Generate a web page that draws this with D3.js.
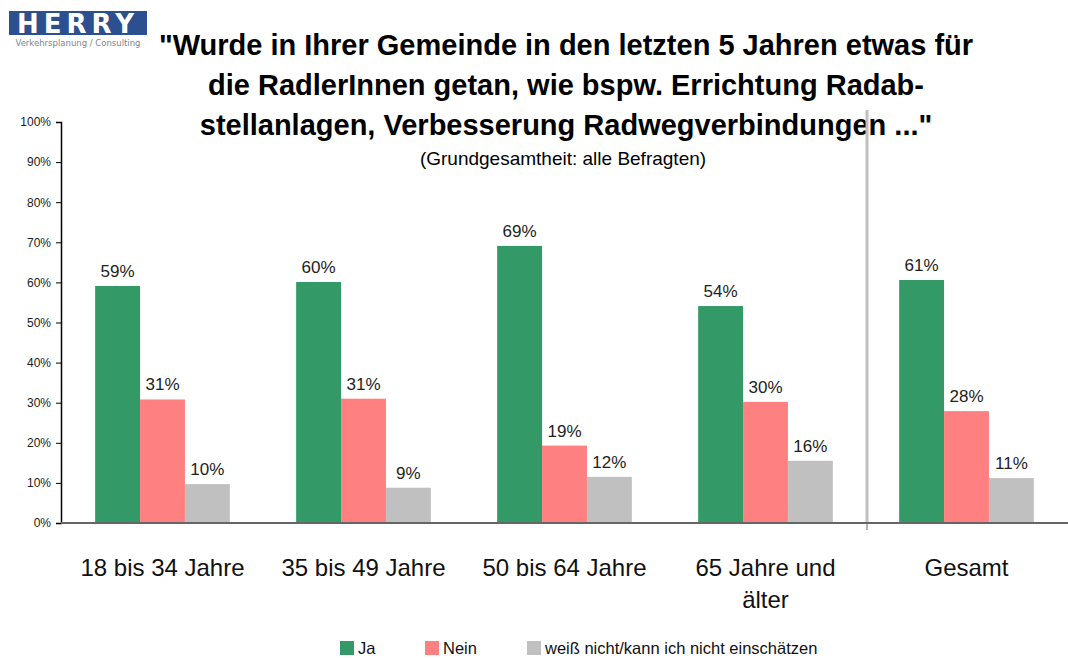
<!DOCTYPE html>
<html>
<head>
<meta charset="utf-8">
<script src="https://cdn.jsdelivr.net/npm/d3@7"></script>
<style>
  body { margin: 0; background: #fff; }
  svg { display: block; font-family: "Liberation Sans Narrow", "Arial Narrow", "Liberation Sans", sans-serif; }
</style>
</head>
<body>
<svg id="chart" width="1068" height="658"></svg>
<script>
// data
const categories = ["18 bis 34 Jahre", "35 bis 49 Jahre", "50 bis 64 Jahre", "65 Jahre und älter", "Gesamt"];
const seriesNames = ["Ja", "Nein", "weiß nicht/kann ich nicht einschätzen"];
const ja = [59.1, 60.1, 69.1, 54.1, 60.6];
const nein = [30.8, 31.0, 19.3, 30.2, 27.9];
const weissNicht = [9.7, 8.8, 11.5, 15.5, 11.2];
const yTicks = [0, 10, 20, 30, 40, 50, 60, 70, 80, 90, 100];
const titleLines = [
  "\"Wurde in Ihrer Gemeinde in den letzten 5 Jahren etwas für",
  "die RadlerInnen getan, wie bspw. Errichtung Radab-",
  "stellanlagen, Verbesserung Radwegverbindungen ...\""
];
const subtitle = "(Grundgesamtheit: alle Befragten)";

const colors = ["#339966", "#ff8080", "#c0c0c0"];
const seriesValues = [ja, nein, weissNicht];

const svg = d3.select("#chart");
const plotLeft = 61, plotRight = 1066, plotTop = 122, plotBottom = 523;

const x0 = d3.scaleBand()
  .domain(categories)
  .range([plotLeft + 1, plotRight + 1])
  .paddingInner(0.33)
  .paddingOuter(0.165);

const x1 = d3.scaleBand()
  .domain(seriesNames)
  .range([0, x0.bandwidth()]);

const y = d3.scaleLinear()
  .domain([0, 100])
  .range([plotBottom, plotTop]);

// logo
const logo = svg.append("g");
logo.append("rect")
  .attr("x", 9).attr("y", 11).attr("width", 138).attr("height", 24)
  .attr("fill", "#2b4f8f");
logo.append("text")
  .attr("x", 78).attr("y", 33)
  .attr("text-anchor", "middle")
  .attr("fill", "#fff")
  .attr("font-family", "DejaVu Sans, sans-serif")
  .attr("font-weight", "900")
  .attr("font-size", 26)
  .attr("letter-spacing", 5)
  .text("HERRY");
logo.append("text")
  .attr("x", 78).attr("y", 46)
  .attr("text-anchor", "middle")
  .attr("fill", "#7a8590")
  .attr("font-family", "DejaVu Sans, sans-serif")
  .attr("font-size", 8.5)
  .text("Verkehrsplanung / Consulting");

// title
svg.append("g").selectAll("text")
  .data(titleLines)
  .join("text")
  .attr("x", 566)
  .attr("y", (d, i) => 55 + i * 40)
  .attr("text-anchor", "middle")
  .attr("font-size", 29)
  .attr("font-weight", "bold")
  .attr("fill", "#000")
  .text(d => d);

svg.append("text")
  .attr("x", 563).attr("y", 165)
  .attr("text-anchor", "middle")
  .attr("font-size", 19)
  .attr("fill", "#000")
  .text(subtitle);

// y axis
const yAxis = svg.append("g")
  .attr("transform", "translate(" + plotLeft + ",0)")
  .call(d3.axisLeft(y).tickValues(yTicks).tickFormat(d => d + "%").tickSize(5).tickPadding(5));
yAxis.select(".domain").attr("stroke", "#000").attr("stroke-width", 1.5);
yAxis.selectAll(".tick line").attr("stroke", "#000");
yAxis.selectAll(".tick text").attr("font-size", 12).attr("fill", "#222");

// divider before Gesamt
const divX = x0("Gesamt") - x0.step() * x0.paddingInner() / 2 + 1;
svg.append("line")
  .attr("x1", divX).attr("x2", divX)
  .attr("y1", 110).attr("y2", plotBottom)
  .attr("stroke", "#c0c0c0").attr("stroke-width", 3);

// bars
const groups = svg.append("g").selectAll("g")
  .data(categories)
  .join("g")
  .attr("transform", d => "translate(" + x0(d) + ",0)");

const cells = groups.selectAll("g")
  .data((c, ci) => seriesNames.map((s, si) => ({s: s, si: si, v: seriesValues[si][ci]})))
  .join("g");

cells.append("rect")
  .attr("x", d => x1(d.s))
  .attr("width", x1.bandwidth())
  .attr("y", d => y(d.v))
  .attr("height", d => y(0) - y(d.v))
  .attr("fill", d => colors[d.si]);

cells.append("text")
  .attr("x", d => x1(d.s) + x1.bandwidth() / 2)
  .attr("y", d => y(d.v) - 9)
  .attr("text-anchor", "middle")
  .attr("font-size", 17)
  .attr("fill", "#222")
  .text(d => Math.round(d.v) + "%");

// x axis line
svg.append("line")
  .attr("x1", plotLeft).attr("x2", 1068)
  .attr("y1", plotBottom).attr("y2", plotBottom)
  .attr("stroke", "#666").attr("stroke-width", 2);
svg.append("line")
  .attr("x1", divX).attr("x2", divX)
  .attr("y1", plotBottom).attr("y2", plotBottom + 7)
  .attr("stroke", "#666").attr("stroke-width", 1);

// category labels
const catLabels = svg.append("g").selectAll("text")
  .data(categories)
  .join("text")
  .attr("x", d => x0(d) + x0.bandwidth() / 2)
  .attr("y", 576)
  .attr("text-anchor", "middle")
  .attr("font-size", 24)
  .attr("fill", "#111");
catLabels.each(function(d) {
  const t = d3.select(this);
  const parts = d === "65 Jahre und älter" ? ["65 Jahre und", "älter"] : [d];
  parts.forEach((p, i) => {
    t.append("tspan")
      .attr("x", x0(d) + x0.bandwidth() / 2)
      .attr("dy", i === 0 ? 0 : 32)
      .text(p);
  });
});

// legend
const legendX = [340, 425, 527];
const legend = svg.append("g").selectAll("g")
  .data(seriesNames)
  .join("g")
  .attr("transform", (d, i) => "translate(" + legendX[i] + ",641)");
legend.append("rect")
  .attr("width", 14).attr("height", 14)
  .attr("fill", (d, i) => colors[i]);
legend.append("text")
  .attr("x", 18).attr("y", 13)
  .attr("font-size", 16.5)
  .attr("fill", "#111")
  .text(d => d);
</script>
</body>
</html>
